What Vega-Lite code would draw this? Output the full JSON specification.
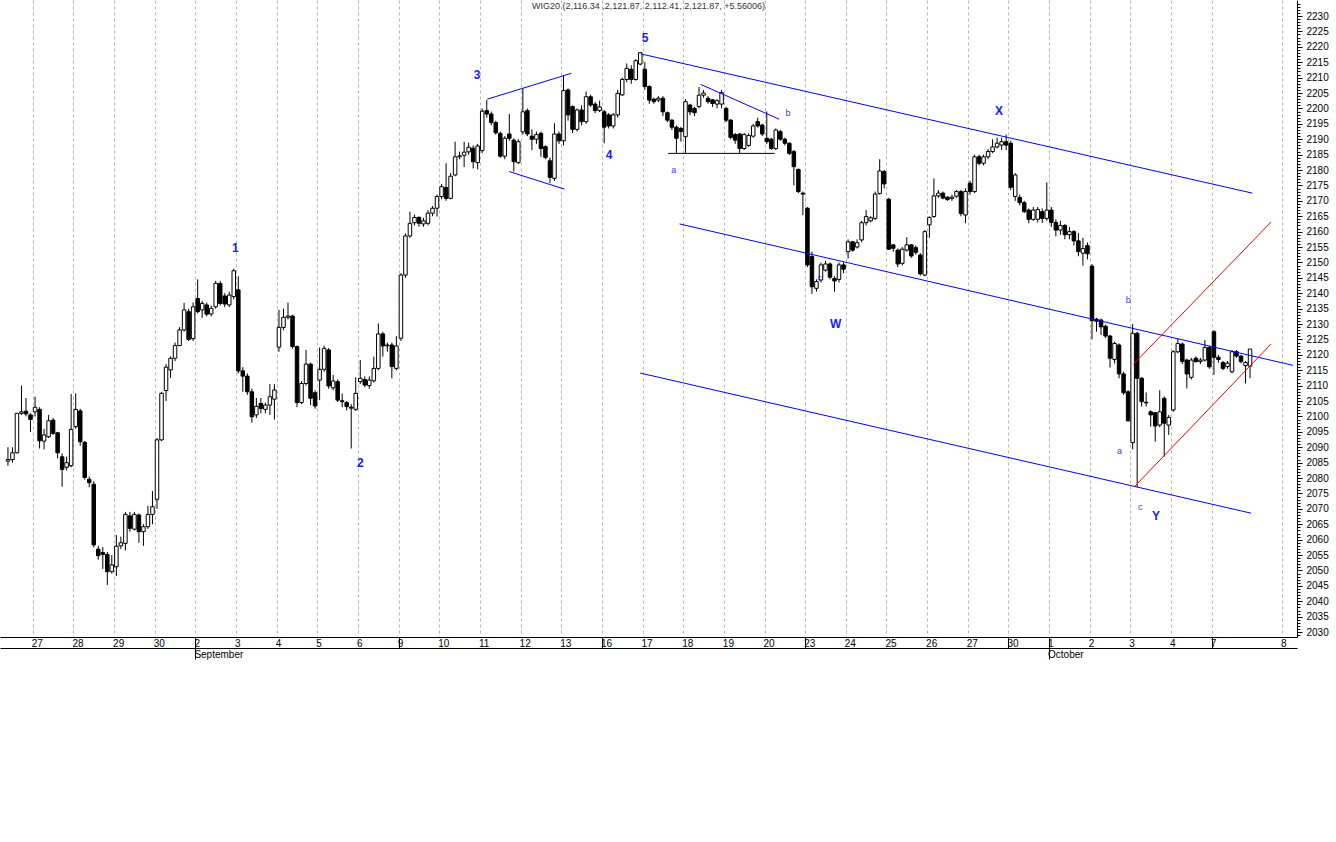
{
"$schema": "https://vega.github.io/schema/vega-lite/v6.json",
"width": 1297, "height": 637,
"autosize": "none",
"padding": {"left": 0, "top": 0, "right": 39, "bottom": 205},
"background": "white",
"config": {"view": {"stroke": null}, "font": "Liberation Sans"},
"title": {"text": "WIG20 (2,116.34 ,2,121.87, 2,112.41, 2,121.87, +5.56006)", "fontSize": 9, "fontWeight": "normal", "color": "#333333", "offset": -11, "anchor": "middle", "font": "Liberation Sans"},
"datasets": {
"candles": [
{"t":0.389,"o":2085.5,"h":2090,"l":2084,"c":2086},
{"t":0.5,"o":2086,"h":2090,"l":2085,"c":2088.2},
{"t":0.611,"o":2088.2,"h":2092,"l":2088,"c":2101},
{"t":0.722,"o":2101,"h":2110,"l":2100.5,"c":2101.5},
{"t":0.833,"o":2101.7,"h":2106,"l":2100,"c":2100.8},
{"t":0.944,"o":2100.5,"h":2101,"l":2095,"c":2099},
{"t":1.056,"o":2101.5,"h":2106.4,"l":2100,"c":2103},
{"t":1.167,"o":2102.3,"h":2103,"l":2089.6,"c":2092.1},
{"t":1.278,"o":2092,"h":2096,"l":2089.3,"c":2094},
{"t":1.389,"o":2093.4,"h":2100.5,"l":2093,"c":2098.6},
{"t":1.5,"o":2098.8,"h":2099.5,"l":2094,"c":2094.5},
{"t":1.611,"o":2094.7,"h":2095,"l":2086.4,"c":2088.2},
{"t":1.722,"o":2086.9,"h":2088,"l":2077.2,"c":2082.8},
{"t":1.833,"o":2083.5,"h":2087,"l":2082.5,"c":2085},
{"t":1.944,"o":2084,"h":2107.3,"l":2083.5,"c":2095.8},
{"t":2.056,"o":2096.7,"h":2107.5,"l":2096,"c":2102.3},
{"t":2.167,"o":2101.8,"h":2102.5,"l":2090.5,"c":2091.8},
{"t":2.278,"o":2091.6,"h":2092,"l":2079.5,"c":2080.2},
{"t":2.389,"o":2079.6,"h":2080.5,"l":2077,"c":2078.5},
{"t":2.5,"o":2078,"h":2079,"l":2057.5,"c":2058.3},
{"t":2.611,"o":2056.9,"h":2058,"l":2053.5,"c":2054.8},
{"t":2.722,"o":2055.8,"h":2057.6,"l":2050.5,"c":2055.2},
{"t":2.833,"o":2055.2,"h":2056,"l":2045.3,"c":2049.6},
{"t":2.944,"o":2049.6,"h":2055,"l":2049,"c":2051.8},
{"t":3.056,"o":2051.2,"h":2061.5,"l":2048.2,"c":2057.9},
{"t":3.167,"o":2058,"h":2061,"l":2057,"c":2059},
{"t":3.278,"o":2058.8,"h":2069,"l":2056.5,"c":2068.2},
{"t":3.389,"o":2067.7,"h":2069,"l":2062.6,"c":2063.7},
{"t":3.5,"o":2063.4,"h":2069,"l":2063,"c":2068.2},
{"t":3.611,"o":2068,"h":2068.5,"l":2059,"c":2062.6},
{"t":3.722,"o":2062.6,"h":2065,"l":2058,"c":2064.2},
{"t":3.833,"o":2064.2,"h":2071,"l":2063.5,"c":2068.2},
{"t":3.944,"o":2068.2,"h":2075.8,"l":2065,"c":2070.7},
{"t":4.056,"o":2073.1,"h":2093,"l":2070,"c":2092.4},
{"t":4.167,"o":2092.4,"h":2108,"l":2092,"c":2107.5},
{"t":4.278,"o":2108.4,"h":2117,"l":2105,"c":2116},
{"t":4.389,"o":2115.1,"h":2119.5,"l":2112.5,"c":2118.9},
{"t":4.5,"o":2118.9,"h":2124,"l":2118,"c":2123},
{"t":4.611,"o":2123,"h":2129,"l":2123,"c":2128.1},
{"t":4.722,"o":2128.1,"h":2136.9,"l":2127.5,"c":2134.6},
{"t":4.833,"o":2134,"h":2135,"l":2124.5,"c":2125},
{"t":4.944,"o":2125.3,"h":2137,"l":2124.5,"c":2135.6},
{"t":5.056,"o":2138.3,"h":2144.5,"l":2133.5,"c":2134},
{"t":5.167,"o":2134.6,"h":2137.5,"l":2132,"c":2136.7},
{"t":5.278,"o":2136.2,"h":2137,"l":2132.5,"c":2133.2},
{"t":5.389,"o":2133.3,"h":2136,"l":2132.5,"c":2135.1},
{"t":5.5,"o":2135.6,"h":2144,"l":2135,"c":2143.2},
{"t":5.611,"o":2143.2,"h":2144,"l":2136,"c":2136.7},
{"t":5.722,"o":2139.1,"h":2140,"l":2135.5,"c":2136.5},
{"t":5.833,"o":2136.2,"h":2140.5,"l":2135.5,"c":2139.4},
{"t":5.944,"o":2138.9,"h":2148,"l":2138,"c":2147.3},
{"t":6.056,"o":2141.1,"h":2145.5,"l":2114,"c":2114.8},
{"t":6.167,"o":2114.8,"h":2116,"l":2108,"c":2113.1},
{"t":6.278,"o":2113.1,"h":2114,"l":2107,"c":2108},
{"t":6.389,"o":2108,"h":2109,"l":2098,"c":2099.9},
{"t":6.5,"o":2100.5,"h":2106,"l":2099.5,"c":2103.3},
{"t":6.611,"o":2104.2,"h":2106,"l":2101,"c":2102.6},
{"t":6.722,"o":2102.3,"h":2104.5,"l":2101,"c":2103.7},
{"t":6.833,"o":2103.7,"h":2110.5,"l":2100.5,"c":2106.4},
{"t":6.944,"o":2105.6,"h":2110.5,"l":2099,"c":2108.6},
{"t":7.056,"o":2122.5,"h":2134.6,"l":2121,"c":2128.9},
{"t":7.167,"o":2128.9,"h":2135,"l":2128,"c":2132.2},
{"t":7.278,"o":2132.2,"h":2137,"l":2131.5,"c":2132.6},
{"t":7.389,"o":2132.6,"h":2133,"l":2122,"c":2122.7},
{"t":7.5,"o":2122.7,"h":2123,"l":2103,"c":2104.5},
{"t":7.611,"o":2104.5,"h":2111.5,"l":2104,"c":2110.7},
{"t":7.722,"o":2110.7,"h":2121.6,"l":2110,"c":2117},
{"t":7.833,"o":2117,"h":2117.5,"l":2103.7,"c":2105.9},
{"t":7.944,"o":2107.7,"h":2108.5,"l":2102.5,"c":2103.4},
{"t":8.056,"o":2111.8,"h":2122.4,"l":2105.3,"c":2115.3},
{"t":8.167,"o":2115.3,"h":2123,"l":2114.5,"c":2122.1},
{"t":8.278,"o":2121.6,"h":2122.2,"l":2109,"c":2109.9},
{"t":8.389,"o":2109.3,"h":2113.5,"l":2108.5,"c":2111.5},
{"t":8.5,"o":2111.3,"h":2112,"l":2104.7,"c":2105.3},
{"t":8.611,"o":2105.1,"h":2107.4,"l":2103,"c":2104.8},
{"t":8.722,"o":2104.5,"h":2105,"l":2102,"c":2103.2},
{"t":8.833,"o":2103,"h":2104,"l":2089.6,"c":2102.7},
{"t":8.944,"o":2102.3,"h":2112.7,"l":2101.8,"c":2107.5},
{"t":9.056,"o":2111.3,"h":2118.3,"l":2110.5,"c":2112.4},
{"t":9.167,"o":2112,"h":2113,"l":2109.5,"c":2110.2},
{"t":9.278,"o":2110,"h":2113,"l":2109,"c":2111.8},
{"t":9.389,"o":2111.6,"h":2119.4,"l":2111,"c":2115.6},
{"t":9.5,"o":2115.6,"h":2130.2,"l":2115,"c":2126.8},
{"t":9.611,"o":2126.8,"h":2127.5,"l":2119.4,"c":2122.9},
{"t":9.722,"o":2122.9,"h":2124,"l":2121,"c":2123.2},
{"t":9.833,"o":2123.2,"h":2124,"l":2112.4,"c":2116.2},
{"t":9.944,"o":2115.6,"h":2126.1,"l":2115,"c":2122.9},
{"t":10.056,"o":2125.4,"h":2146.5,"l":2124.5,"c":2145.9},
{"t":10.167,"o":2145.9,"h":2159.4,"l":2145,"c":2158.6},
{"t":10.278,"o":2158.6,"h":2166.5,"l":2158,"c":2162.7},
{"t":10.389,"o":2162.9,"h":2165.5,"l":2162,"c":2164.6},
{"t":10.5,"o":2164.6,"h":2165,"l":2161.6,"c":2162.7},
{"t":10.611,"o":2162.5,"h":2164.5,"l":2161.6,"c":2163.5},
{"t":10.722,"o":2162.7,"h":2167,"l":2162,"c":2166},
{"t":10.833,"o":2166,"h":2168.3,"l":2165,"c":2167.6},
{"t":10.944,"o":2167.6,"h":2172,"l":2164.9,"c":2171.4},
{"t":11.056,"o":2171.4,"h":2175.5,"l":2170.5,"c":2174.6},
{"t":11.167,"o":2174.3,"h":2182.2,"l":2170,"c":2170.8},
{"t":11.278,"o":2170.8,"h":2179,"l":2170.5,"c":2178},
{"t":11.389,"o":2178.4,"h":2189.2,"l":2178,"c":2184.3},
{"t":11.5,"o":2184.3,"h":2186,"l":2183.5,"c":2184.6},
{"t":11.611,"o":2184.8,"h":2189.2,"l":2181,"c":2185.8},
{"t":11.722,"o":2185.9,"h":2188.9,"l":2185,"c":2187.4},
{"t":11.833,"o":2187.1,"h":2188,"l":2180.5,"c":2182.7},
{"t":11.944,"o":2182.4,"h":2188.5,"l":2180.2,"c":2187.8},
{"t":12.056,"o":2186.3,"h":2200,"l":2185.5,"c":2199.1},
{"t":12.167,"o":2199.3,"h":2202.7,"l":2197,"c":2198.2},
{"t":12.278,"o":2198.2,"h":2199,"l":2194.5,"c":2195.4},
{"t":12.389,"o":2195.4,"h":2196,"l":2191.5,"c":2192.1},
{"t":12.5,"o":2191.9,"h":2192.5,"l":2184,"c":2184.5},
{"t":12.611,"o":2184.5,"h":2191,"l":2183.5,"c":2190.3},
{"t":12.722,"o":2191.7,"h":2198.2,"l":2189.5,"c":2190.3},
{"t":12.833,"o":2189.7,"h":2190.3,"l":2179.5,"c":2182.7},
{"t":12.944,"o":2182.4,"h":2190,"l":2182,"c":2189.2},
{"t":13.056,"o":2192.4,"h":2206.5,"l":2191.5,"c":2198.9},
{"t":13.167,"o":2199.3,"h":2200,"l":2191,"c":2191.7},
{"t":13.278,"o":2191,"h":2193.2,"l":2186.5,"c":2190},
{"t":13.389,"o":2190,"h":2192.5,"l":2188.5,"c":2191.5},
{"t":13.5,"o":2191.9,"h":2192.5,"l":2184.3,"c":2187},
{"t":13.611,"o":2187.6,"h":2188,"l":2183.5,"c":2184.1},
{"t":13.722,"o":2183,"h":2184,"l":2175.7,"c":2177.6},
{"t":13.833,"o":2177.3,"h":2195.2,"l":2176.5,"c":2191.7},
{"t":13.944,"o":2191.7,"h":2192.5,"l":2188.5,"c":2189.5},
{"t":14.056,"o":2189.5,"h":2210.8,"l":2188,"c":2205.8},
{"t":14.167,"o":2206,"h":2206.5,"l":2196,"c":2197.9},
{"t":14.278,"o":2200.6,"h":2201,"l":2192,"c":2193.2},
{"t":14.389,"o":2193.2,"h":2200,"l":2192.5,"c":2199.5},
{"t":14.5,"o":2199.5,"h":2201,"l":2194.5,"c":2195.7},
{"t":14.611,"o":2195.7,"h":2205.5,"l":2195,"c":2203.8},
{"t":14.722,"o":2203.8,"h":2204.5,"l":2200.5,"c":2201.1},
{"t":14.833,"o":2201.4,"h":2202,"l":2198.5,"c":2199.3},
{"t":14.944,"o":2199.3,"h":2202.5,"l":2198.8,"c":2200.5},
{"t":15.056,"o":2198.9,"h":2199.5,"l":2188.7,"c":2193.9},
{"t":15.167,"o":2197.9,"h":2198.5,"l":2193.5,"c":2194.3},
{"t":15.278,"o":2194.3,"h":2198.5,"l":2193.5,"c":2197.9},
{"t":15.389,"o":2197.9,"h":2206,"l":2197,"c":2204.9},
{"t":15.5,"o":2204.4,"h":2210,"l":2204,"c":2209.4},
{"t":15.611,"o":2209.4,"h":2214.6,"l":2208.5,"c":2213},
{"t":15.722,"o":2212.7,"h":2214,"l":2208,"c":2209.4},
{"t":15.833,"o":2209.4,"h":2216,"l":2209,"c":2215.5},
{"t":15.944,"o":2214.4,"h":2218.3,"l":2214,"c":2218.1},
{"t":16.056,"o":2212.7,"h":2215,"l":2206,"c":2207.1},
{"t":16.167,"o":2207.1,"h":2207.5,"l":2201.5,"c":2202.7},
{"t":16.278,"o":2203,"h":2203.5,"l":2201.5,"c":2202.2},
{"t":16.389,"o":2202.7,"h":2204,"l":2202,"c":2203.3},
{"t":16.5,"o":2203.3,"h":2204,"l":2197.5,"c":2198.9},
{"t":16.611,"o":2198.6,"h":2199,"l":2195.5,"c":2196.2},
{"t":16.722,"o":2196.2,"h":2196.5,"l":2193,"c":2193.9},
{"t":16.833,"o":2193.9,"h":2194.5,"l":2185.4,"c":2190.3},
{"t":16.944,"o":2193.5,"h":2194,"l":2189.2,"c":2192.5},
{"t":17.056,"o":2190.8,"h":2203,"l":2185.4,"c":2202.2},
{"t":17.167,"o":2201.1,"h":2201.5,"l":2197.8,"c":2198.9},
{"t":17.278,"o":2200,"h":2200.5,"l":2197.5,"c":2198.6},
{"t":17.389,"o":2200.6,"h":2207,"l":2200,"c":2204.3},
{"t":17.5,"o":2204.3,"h":2206,"l":2203.5,"c":2205},
{"t":17.611,"o":2203.3,"h":2204,"l":2201.5,"c":2202.2},
{"t":17.722,"o":2202.8,"h":2203,"l":2200.5,"c":2201.6},
{"t":17.833,"o":2201.4,"h":2203,"l":2200,"c":2202.5},
{"t":17.944,"o":2201.4,"h":2206,"l":2200,"c":2205.1},
{"t":18.056,"o":2200,"h":2200.5,"l":2195.5,"c":2196.2},
{"t":18.167,"o":2196.2,"h":2196.5,"l":2190,"c":2190.6},
{"t":18.278,"o":2191.5,"h":2192,"l":2188.5,"c":2189.7},
{"t":18.389,"o":2191.7,"h":2192,"l":2185.4,"c":2187},
{"t":18.5,"o":2187,"h":2192,"l":2186.5,"c":2191.5},
{"t":18.611,"o":2188,"h":2192,"l":2187.5,"c":2191.2},
{"t":18.722,"o":2191,"h":2195,"l":2190.5,"c":2194.3},
{"t":18.833,"o":2195.7,"h":2197,"l":2193.8,"c":2194.3},
{"t":18.944,"o":2194.6,"h":2195,"l":2191,"c":2191.7},
{"t":19.056,"o":2190.3,"h":2199,"l":2188.5,"c":2189.2},
{"t":19.167,"o":2190,"h":2190.5,"l":2186.5,"c":2187},
{"t":19.278,"o":2187,"h":2193.5,"l":2186.5,"c":2193},
{"t":19.389,"o":2192.5,"h":2193,"l":2189.5,"c":2190},
{"t":19.5,"o":2190,"h":2190.5,"l":2188,"c":2188.7},
{"t":19.611,"o":2188.7,"h":2189,"l":2184.9,"c":2185.4},
{"t":19.722,"o":2186,"h":2186.5,"l":2175,"c":2181.1},
{"t":19.833,"o":2180.2,"h":2180.5,"l":2172.5,"c":2173},
{"t":19.944,"o":2172.5,"h":2173,"l":2165.4,"c":2172.2},
{"t":20.056,"o":2167.6,"h":2168,"l":2148.5,"c":2149.2},
{"t":20.167,"o":2151.9,"h":2153.5,"l":2139.8,"c":2142.1},
{"t":20.278,"o":2141.6,"h":2144.5,"l":2140.5,"c":2143.8},
{"t":20.389,"o":2144.3,"h":2150,"l":2143.5,"c":2149.2},
{"t":20.5,"o":2147.5,"h":2150.5,"l":2147,"c":2149.5},
{"t":20.611,"o":2149.5,"h":2150,"l":2144.5,"c":2145.2},
{"t":20.722,"o":2144.8,"h":2145.5,"l":2140.5,"c":2144},
{"t":20.833,"o":2144.5,"h":2150,"l":2143.5,"c":2149.2},
{"t":20.944,"o":2149.2,"h":2150,"l":2146.5,"c":2147.8},
{"t":21.056,"o":2153.5,"h":2157.5,"l":2151.3,"c":2156.7},
{"t":21.167,"o":2156.7,"h":2157,"l":2153.5,"c":2154},
{"t":21.278,"o":2155,"h":2157.5,"l":2154.5,"c":2156.4},
{"t":21.389,"o":2157.3,"h":2163.5,"l":2156.5,"c":2162.9},
{"t":21.5,"o":2162.9,"h":2167,"l":2162,"c":2164.9},
{"t":21.611,"o":2163.5,"h":2165,"l":2163,"c":2164.5},
{"t":21.722,"o":2164.3,"h":2173,"l":2163.8,"c":2172.2},
{"t":21.833,"o":2172.4,"h":2183.5,"l":2172,"c":2179.7},
{"t":21.944,"o":2179.5,"h":2180,"l":2174,"c":2175.5},
{"t":22.056,"o":2170.5,"h":2171,"l":2154,"c":2154.3},
{"t":22.167,"o":2155.7,"h":2156,"l":2153.5,"c":2154.6},
{"t":22.278,"o":2154,"h":2154.5,"l":2148.5,"c":2149.5},
{"t":22.389,"o":2149.7,"h":2155,"l":2149,"c":2154.3},
{"t":22.5,"o":2154,"h":2158.2,"l":2153.5,"c":2155.7},
{"t":22.611,"o":2155.7,"h":2156,"l":2151.5,"c":2152.1},
{"t":22.722,"o":2154.8,"h":2155.5,"l":2152.5,"c":2153.3},
{"t":22.833,"o":2152.4,"h":2153,"l":2145.7,"c":2146.3},
{"t":22.944,"o":2145.9,"h":2160.5,"l":2145.5,"c":2160},
{"t":23.056,"o":2162.2,"h":2165,"l":2158,"c":2164.6},
{"t":23.167,"o":2164.9,"h":2177.3,"l":2164.5,"c":2171.6},
{"t":23.278,"o":2171.6,"h":2173.5,"l":2171,"c":2172.5},
{"t":23.389,"o":2172.5,"h":2173,"l":2170.5,"c":2170.9},
{"t":23.5,"o":2171.2,"h":2171.5,"l":2170,"c":2170.4},
{"t":23.611,"o":2170.8,"h":2172,"l":2170,"c":2171.2},
{"t":23.722,"o":2171.5,"h":2173.5,"l":2171,"c":2173},
{"t":23.833,"o":2173,"h":2173.5,"l":2165,"c":2165.9},
{"t":23.944,"o":2165.4,"h":2174,"l":2162.7,"c":2173},
{"t":24.056,"o":2175.7,"h":2176.5,"l":2172,"c":2173},
{"t":24.167,"o":2173,"h":2185,"l":2172.5,"c":2184.3},
{"t":24.278,"o":2184.3,"h":2185,"l":2181.5,"c":2182.2},
{"t":24.389,"o":2182.2,"h":2185,"l":2181.5,"c":2184.3},
{"t":24.5,"o":2184.3,"h":2186.8,"l":2183.5,"c":2186},
{"t":24.611,"o":2186,"h":2190,"l":2185.5,"c":2187.5},
{"t":24.722,"o":2187.5,"h":2190.5,"l":2187,"c":2188.7},
{"t":24.833,"o":2188.1,"h":2190.5,"l":2186.5,"c":2189.2},
{"t":24.944,"o":2189.2,"h":2191.5,"l":2186.5,"c":2188.1},
{"t":25.056,"o":2188.7,"h":2189.5,"l":2173.5,"c":2174.4},
{"t":25.167,"o":2171.4,"h":2179,"l":2170,"c":2178.4},
{"t":25.278,"o":2171.1,"h":2172,"l":2168.5,"c":2169.4},
{"t":25.389,"o":2169.4,"h":2170,"l":2166,"c":2166.5},
{"t":25.5,"o":2167,"h":2167.5,"l":2162.7,"c":2164},
{"t":25.611,"o":2164,"h":2168,"l":2163.5,"c":2167},
{"t":25.722,"o":2164,"h":2168,"l":2163,"c":2167.2},
{"t":25.833,"o":2166.5,"h":2167.5,"l":2162.8,"c":2164.3},
{"t":25.944,"o":2164.3,"h":2176,"l":2163.5,"c":2167},
{"t":26.056,"o":2167,"h":2168,"l":2161.5,"c":2163},
{"t":26.167,"o":2163,"h":2164,"l":2158.5,"c":2160.5},
{"t":26.278,"o":2160.5,"h":2163.5,"l":2159,"c":2162},
{"t":26.389,"o":2162,"h":2162.5,"l":2157.5,"c":2159},
{"t":26.5,"o":2159,"h":2161.5,"l":2157.5,"c":2160},
{"t":26.611,"o":2160,"h":2160.5,"l":2155.5,"c":2157},
{"t":26.722,"o":2157,"h":2159.5,"l":2152,"c":2153.5},
{"t":26.833,"o":2153,"h":2158,"l":2149,"c":2154.5},
{"t":26.944,"o":2155.5,"h":2156.5,"l":2151,"c":2152.8},
{"t":27.056,"o":2148.8,"h":2149.5,"l":2125,"c":2131.1},
{"t":27.167,"o":2131.6,"h":2132,"l":2127.5,"c":2130.9},
{"t":27.278,"o":2131.3,"h":2131.8,"l":2126.4,"c":2129.1},
{"t":27.389,"o":2129.3,"h":2129.8,"l":2125.5,"c":2126.1},
{"t":27.5,"o":2126.1,"h":2126.5,"l":2115.9,"c":2118.9},
{"t":27.611,"o":2118.5,"h":2124.3,"l":2117.2,"c":2123.7},
{"t":27.722,"o":2123.2,"h":2123.7,"l":2112.4,"c":2113.8},
{"t":27.833,"o":2113.8,"h":2114.5,"l":2107,"c":2107.7},
{"t":27.944,"o":2108,"h":2108.5,"l":2098.3,"c":2098.6},
{"t":28.056,"o":2091.5,"h":2130,"l":2089.3,"c":2127},
{"t":28.167,"o":2127,"h":2127.5,"l":2077,"c":2112.4},
{"t":28.278,"o":2112.4,"h":2112.8,"l":2103.2,"c":2104.8},
{"t":28.389,"o":2104.6,"h":2107.8,"l":2103.2,"c":2104.4},
{"t":28.5,"o":2101.5,"h":2102,"l":2096.7,"c":2100.5},
{"t":28.611,"o":2101.2,"h":2101.5,"l":2091.8,"c":2096.9},
{"t":28.722,"o":2097.2,"h":2108.5,"l":2096.5,"c":2101.5},
{"t":28.833,"o":2105.9,"h":2106.5,"l":2087,"c":2097.8},
{"t":28.944,"o":2097.2,"h":2100.5,"l":2094,"c":2099.7},
{"t":29.056,"o":2102.1,"h":2121.5,"l":2101.5,"c":2121},
{"t":29.167,"o":2121,"h":2125.3,"l":2120.5,"c":2123.7},
{"t":29.278,"o":2123.5,"h":2124,"l":2117,"c":2117.8},
{"t":29.389,"o":2118.3,"h":2118.8,"l":2109.1,"c":2113.8},
{"t":29.5,"o":2112.7,"h":2119,"l":2112,"c":2118.3},
{"t":29.611,"o":2118.9,"h":2119.5,"l":2117.5,"c":2117.8},
{"t":29.722,"o":2117.8,"h":2119,"l":2117,"c":2118.3},
{"t":29.833,"o":2118.3,"h":2124.8,"l":2117.8,"c":2122.4},
{"t":29.944,"o":2122.4,"h":2123,"l":2115.5,"c":2116.1},
{"t":30.056,"o":2127.5,"h":2128,"l":2113.5,"c":2119.2},
{"t":30.167,"o":2119.2,"h":2120,"l":2117.5,"c":2118.5},
{"t":30.278,"o":2117.5,"h":2118,"l":2115,"c":2115.6},
{"t":30.389,"o":2116.2,"h":2118,"l":2115.5,"c":2117.3},
{"t":30.5,"o":2114.5,"h":2121.5,"l":2114,"c":2121},
{"t":30.611,"o":2121,"h":2121.5,"l":2119,"c":2119.6},
{"t":30.722,"o":2119.6,"h":2120,"l":2117.2,"c":2117.8},
{"t":30.833,"o":2116.5,"h":2118,"l":2110.7,"c":2117.5},
{"t":30.944,"o":2116.34,"h":2121.87,"l":2112.41,"c":2121.87}
],
"lines": [
{"t1":15.96,"p1":2217.7,"t2":31.0,"p2":2172.5,"g":"wave"},
{"t1":16.91,"p1":2162.5,"t2":32.0,"p2":2116.6,"g":"wave"},
{"t1":15.94,"p1":2114.1,"t2":30.97,"p2":2068.6,"g":"wave"},
{"t1":12.18,"p1":2203.0,"t2":14.25,"p2":2211.4,"g":"wave"},
{"t1":12.72,"p1":2179.5,"t2":14.08,"p2":2173.8,"g":"wave"},
{"t1":17.43,"p1":2207.8,"t2":19.36,"p2":2196.5,"g":"wave"},
{"t1":16.63,"p1":2185.4,"t2":19.25,"p2":2185.4,"g":"base"},
{"t1":28.07,"p1":2116.9,"t2":31.46,"p2":2163.1,"g":"target"},
{"t1":28.1,"p1":2077.2,"t2":31.46,"p2":2123.5,"g":"target"}
],
"waves": [
{"t":5.98,"p":2154.7,"txt":"1"},
{"t":9.06,"p":2084.9,"txt":"2"},
{"t":11.93,"p":2210.8,"txt":"3"},
{"t":15.18,"p":2184.9,"txt":"4"},
{"t":16.06,"p":2222.9,"txt":"5"},
{"t":20.75,"p":2130.0,"txt":"W"},
{"t":24.77,"p":2199.2,"txt":"X"},
{"t":28.63,"p":2067.7,"txt":"Y"}
],
"subs": [
{"t":16.77,"p":2180.0,"txt":"a"},
{"t":19.58,"p":2198.5,"txt":"b"},
{"t":20.36,"p":2145.0,"txt":"c"},
{"t":27.95,"p":2137.8,"txt":"b"},
{"t":27.73,"p":2088.8,"txt":"a"},
{"t":28.24,"p":2070.6,"txt":"c"}
]
},
"layer": [
{
"data": {"name": "candles"},
"mark": {"type": "rule", "color": "black", "strokeWidth": 1, "clip": true},
"encoding": {
"x": {"field": "t", "type": "quantitative", "scale": {"domain": [0.3166, 31.976], "nice": false, "zero": false},
"axis": {"orient": "bottom", "title": null, "values": [1,2,3,4,5,6,7,8,9,10,11,12,13,14,15,16,17,18,19,20,21,22,23,24,25,26,27,28,29,30,31.73],
"labelExpr": "datum.value > 31 ? '8' : ['26','27','28','29','30','2','3','4','5','6','9','10','11','12','13','16','17','18','19','20','23','24','25','26','27','30','1','2','3','4','7'][datum.value]",
"grid": true, "gridColor": "#b4b4b4", "gridDash": [3, 3], "gridWidth": 1,
"domainColor": "black", "domainWidth": 1, "tickSize": 11, "tickWidth": 1,
"tickColor": {"condition": {"test": "indexof([5,10,15,20,25,26,30], datum.value) >= 0", "value": "black"}, "value": "transparent"},
"labelAlign": "left", "labelBaseline": "top", "labelPadding": -10, "labelOffset": -1.5, "labelFontSize": 10, "labelColor": "black", "labelFont": "Liberation Sans", "labelOverlap": false, "labelBound": false, "labelFlush": false}},
"y": {"field": "l", "type": "quantitative", "scale": {"domain": [2028.4, 2235.2], "nice": false, "zero": false},
"axis": {"orient": "right", "title": null, "values": [2030,2035,2040,2045,2050,2055,2060,2065,2070,2075,2080,2085,2090,2095,2100,2105,2110,2115,2120,2125,2130,2135,2140,2145,2150,2155,2160,2165,2170,2175,2180,2185,2190,2195,2200,2205,2210,2215,2220,2225,2230],
"grid": false, "domainColor": "black", "tickColor": "black", "tickSize": 5, "labelPadding": 4, "labelFontSize": 10, "labelColor": "black", "labelFont": "Liberation Sans", "labelOverlap": false, "format": "d"}},
"y2": {"field": "h"}
}
},
{
"data": {"name": "candles"},
"mark": {"type": "bar", "size": 3.5, "stroke": "black", "strokeWidth": 1, "clip": true},
"encoding": {
"x": {"field": "t", "type": "quantitative", "axis": null},
"y": {"field": "o", "type": "quantitative",
"axis": {"orient": "right", "title": null, "values": [2029,2031,2032,2033,2034,2036,2037,2038,2039,2041,2042,2043,2044,2046,2047,2048,2049,2051,2052,2053,2054,2056,2057,2058,2059,2061,2062,2063,2064,2066,2067,2068,2069,2071,2072,2073,2074,2076,2077,2078,2079,2081,2082,2083,2084,2086,2087,2088,2089,2091,2092,2093,2094,2096,2097,2098,2099,2101,2102,2103,2104,2106,2107,2108,2109,2111,2112,2113,2114,2116,2117,2118,2119,2121,2122,2123,2124,2126,2127,2128,2129,2131,2132,2133,2134,2136,2137,2138,2139,2141,2142,2143,2144,2146,2147,2148,2149,2151,2152,2153,2154,2156,2157,2158,2159,2161,2162,2163,2164,2166,2167,2168,2169,2171,2172,2173,2174,2176,2177,2178,2179,2181,2182,2183,2184,2186,2187,2188,2189,2191,2192,2193,2194,2196,2197,2198,2199,2201,2202,2203,2204,2206,2207,2208,2209,2211,2212,2213,2214,2216,2217,2218,2219,2221,2222,2223,2224,2226,2227,2228,2229,2231,2232,2233,2234],
"labels": false, "domain": false, "grid": false, "tickColor": "black", "tickSize": 3, "offset": 0}},
"y2": {"field": "c"},
"fill": {"condition": {"test": "datum.c >= datum.o", "value": "white"}, "value": "black"}
}
},
{
"data": {"name": "lines"},
"mark": {"type": "rule", "strokeWidth": 1, "clip": true},
"encoding": {
"x": {"field": "t1", "type": "quantitative", "axis": null},
"x2": {"field": "t2"},
"y": {"field": "p1", "type": "quantitative", "axis": null},
"y2": {"field": "p2"},
"color": {"field": "g", "type": "nominal", "scale": {"domain": ["wave", "target", "base"], "range": ["#0000ff", "#ff0000", "#000000"]}, "legend": null}
}
},
{
"data": {"name": "waves"},
"mark": {"type": "text", "fontSize": 12, "fontWeight": "bold", "color": "#1a1aff", "align": "center", "baseline": "middle", "font": "Liberation Sans"},
"encoding": {
"x": {"field": "t", "type": "quantitative",
"axis": {"orient": "bottom", "offset": 11, "title": null, "values": [5, 26], "labelExpr": "datum.value == 5 ? 'September' : 'October'", "grid": false, "domainColor": "black", "tickColor": "black", "tickSize": 11, "labelAlign": "left", "labelBaseline": "top", "labelPadding": -10, "labelOffset": -1.5, "labelFontSize": 10, "labelColor": "black", "labelFont": "Liberation Sans", "labelBound": false, "labelFlush": false}},
"y": {"field": "p", "type": "quantitative", "axis": null},
"text": {"field": "txt"}
}
},
{
"data": {"name": "subs"},
"mark": {"type": "text", "fontSize": 9, "color": "#3a3aff", "align": "center", "baseline": "middle", "font": "Liberation Sans"},
"encoding": {
"x": {"field": "t", "type": "quantitative", "axis": null},
"y": {"field": "p", "type": "quantitative", "axis": null},
"text": {"field": "txt"}
}
}
],
"resolve": {"axis": {"x": "independent", "y": "independent"}}
}
